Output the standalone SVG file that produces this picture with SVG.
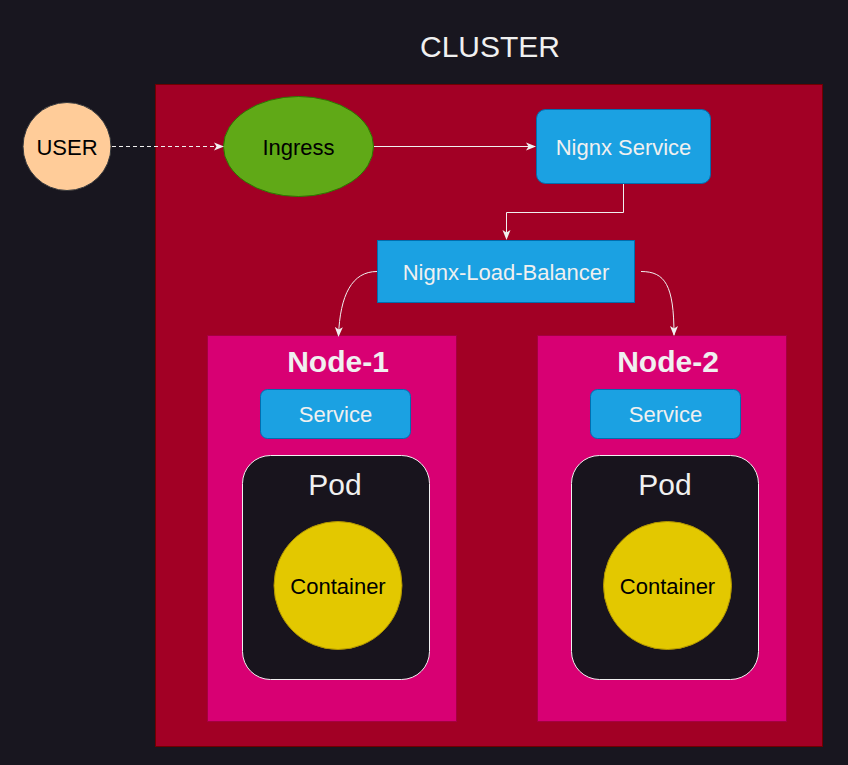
<svg xmlns="http://www.w3.org/2000/svg" width="848" height="765" viewBox="0 0 848 765">
<style>
text{font-family:"Liberation Sans",Arial,sans-serif;text-anchor:middle}
.lt{fill:#f0f0f0}
.dk{fill:#000}
.blue{fill:#1ba1e2;stroke:#006eaf;stroke-width:1}
.node{fill:#d80073;stroke:#a50040;stroke-width:1}
.pod{fill:#18141d;stroke:#f0f0f0;stroke-width:1}
.cont{fill:#e3c800;stroke:#b09500;stroke-width:1}
.edge{fill:none;stroke:#f0f0f0;stroke-width:1}
</style>
<defs>
<marker id="arr" viewBox="0 0 10 10" refX="9" refY="5" markerWidth="10" markerHeight="10" markerUnits="userSpaceOnUse" orient="auto">
<path d="M0,1 L10,5 L0,9 L2.5,5 Z" fill="#f0f0f0"/>
</marker>
</defs>
<rect width="848" height="765" fill="#18161f"/>
<g id="cluster">
<rect x="155.5" y="84.5" width="667" height="662" fill="#a20025" stroke="#6f0000"/>
<text x="490" y="57" font-size="30" class="lt">CLUSTER</text>
</g>
<g id="node-1">
<rect class="node" x="207.5" y="335.5" width="249" height="386"/>
<text x="338" y="372" font-size="30" font-weight="bold" class="lt">Node-1</text>
</g>
<g id="node-2">
<rect class="node" x="537.5" y="335.5" width="249" height="386"/>
<text x="668" y="372" font-size="30" font-weight="bold" class="lt">Node-2</text>
</g>
<g id="user">
<circle cx="67" cy="146.5" r="44" fill="#ffcc99" stroke="#36393d"/>
<text x="67" y="154.5" font-size="22" class="dk">USER</text>
</g>
<g id="ingress">
<ellipse cx="298.5" cy="146.5" rx="75" ry="50" fill="#60a917" stroke="#2d7600"/>
<text x="298.5" y="154.5" font-size="22" class="dk">Ingress</text>
</g>
<g id="nignx-service">
<rect class="blue" x="536.5" y="109.5" width="174" height="74" rx="9"/>
<text x="623.5" y="154.5" font-size="22" class="lt">Nignx Service</text>
</g>
<g id="nignx-load-balancer">
<rect class="blue" x="377.5" y="240.5" width="257" height="62"/>
<text x="506" y="279.5" font-size="22" class="lt">Nignx-Load-Balancer</text>
</g>
<g id="service-1">
<rect class="blue" x="260.5" y="389.5" width="150" height="49" rx="7"/>
<text x="335.5" y="422" font-size="22" class="lt">Service</text>
</g>
<g id="service-2">
<rect class="blue" x="590.5" y="389.5" width="150" height="49" rx="7"/>
<text x="665.5" y="422" font-size="22" class="lt">Service</text>
</g>
<g id="pod-1">
<rect class="pod" x="242.5" y="455.5" width="187" height="224" rx="28"/>
<text x="335" y="495" font-size="30" class="lt">Pod</text>
</g>
<g id="pod-2">
<rect class="pod" x="571.5" y="455.5" width="187" height="224" rx="28"/>
<text x="665" y="495" font-size="30" class="lt">Pod</text>
</g>
<g id="container-1">
<circle class="cont" cx="338" cy="585.5" r="64"/>
<text x="338" y="593.5" font-size="22" class="dk">Container</text>
</g>
<g id="container-2">
<circle class="cont" cx="667.5" cy="585.5" r="64"/>
<text x="667.5" y="593.5" font-size="22" class="dk">Container</text>
</g>
<g id="connectors">
<path class="edge" d="M112,146.5 L223,146.5" stroke-dasharray="4,3" marker-end="url(#arr)"/>
<path class="edge" d="M374,146.5 L535,146.5" marker-end="url(#arr)"/>
<path class="edge" d="M623.5,184 L623.5,212.5 L506.5,212.5 L506.5,239" marker-end="url(#arr)"/>
<path class="edge" d="M377,271.5 C352,271.5 340,295 338.5,336" marker-end="url(#arr)"/>
<path class="edge" d="M641,271.5 C665,271.5 674,285 674,335" marker-end="url(#arr)"/>
</g>
</svg>
